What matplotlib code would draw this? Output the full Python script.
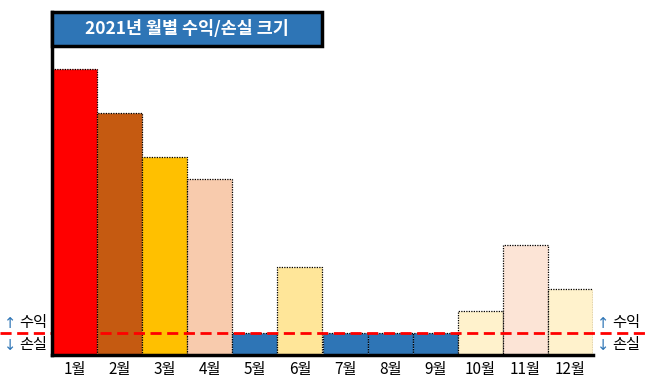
import matplotlib
matplotlib.use("Agg")
import matplotlib.pyplot as plt
import matplotlib.transforms as mtransforms
from matplotlib.patches import Rectangle

plt.rcParams['font.family'] = ['Noto Sans CJK KR', 'DejaVu Sans']

months = ["1월", "2월", "3월", "4월", "5월", "6월", "7월", "8월", "9월", "10월", "11월", "12월"]
# bar heights measured from the bottom axis (zero level of profit/loss at zero_level)
heights = [13, 11, 9, 8, 1, 4, 1, 1, 1, 2, 5, 3]
zero_level = 1
colors = ["#FF0000", "#C55A11", "#FFC000", "#F8CBAD", "#2E75B6", "#FFE699",
          "#2E75B6", "#2E75B6", "#2E75B6", "#FFF2CC", "#FCE4D6", "#FFF2CC"]
title = "2021년 월별 수익/손실 크기"

W, H = 649, 386
fig = plt.figure(figsize=(W / 100, H / 100), dpi=100)
ax = fig.add_axes([52 / W, 31 / H, (593 - 52) / W, (355 - 12) / H])

x = list(range(len(months)))
ax.bar(x, heights, width=1.0, color=colors, edgecolor="black",
       linewidth=0.9, linestyle=(0, (1, 1)), zorder=2)
ax.set_xlim(-0.5, len(months) - 0.5)
ax.set_ylim(0, 15.6)
ax.set_xticks(x)
ax.set_xticklabels(months, fontsize=11)
ax.tick_params(axis="x", length=0, pad=4)
ax.set_yticks([])
for s in ["top", "right"]:
    ax.spines[s].set_visible(False)
for s in ["left", "bottom"]:
    ax.spines[s].set_linewidth(2.5)
    ax.spines[s].set_zorder(5)

# dashed zero line across whole figure width
tr = mtransforms.blended_transform_factory(fig.transFigure, ax.transData)
ax.plot([0, 1], [zero_level, zero_level], transform=tr, color="#FF0000",
        linestyle=(0, (4, 2)), linewidth=2.0, clip_on=False, zorder=4)

# title box
box = Rectangle((52 / W, (H - 46) / H), (322 - 52) / W, (46 - 12) / H,
                transform=fig.transFigure, facecolor="#2E75B6",
                edgecolor="black", linewidth=2.5, zorder=6)
fig.patches.append(box)
fig.text((52 + 322) / 2 / W, (H - 29) / H, title, color="white",
         fontsize=12.5, fontweight="bold", ha="center", va="center", zorder=7)

# side labels
for xl in [4, 597]:
    fig.text(xl / W, (H - 323) / H, "↑", color="#2E75B6", fontsize=10.5,
             ha="left", va="center", family=["DejaVu Sans"])
    fig.text((xl + 15) / W, (H - 323) / H, "수익", color="black", fontsize=11,
             ha="left", va="center")
    fig.text(xl / W, (H - 345) / H, "↓", color="#2E75B6", fontsize=10.5,
             ha="left", va="center", family=["DejaVu Sans"])
    fig.text((xl + 15) / W, (H - 345) / H, "손실", color="black", fontsize=11,
             ha="left", va="center")

fig.savefig("out.png", dpi=100)
